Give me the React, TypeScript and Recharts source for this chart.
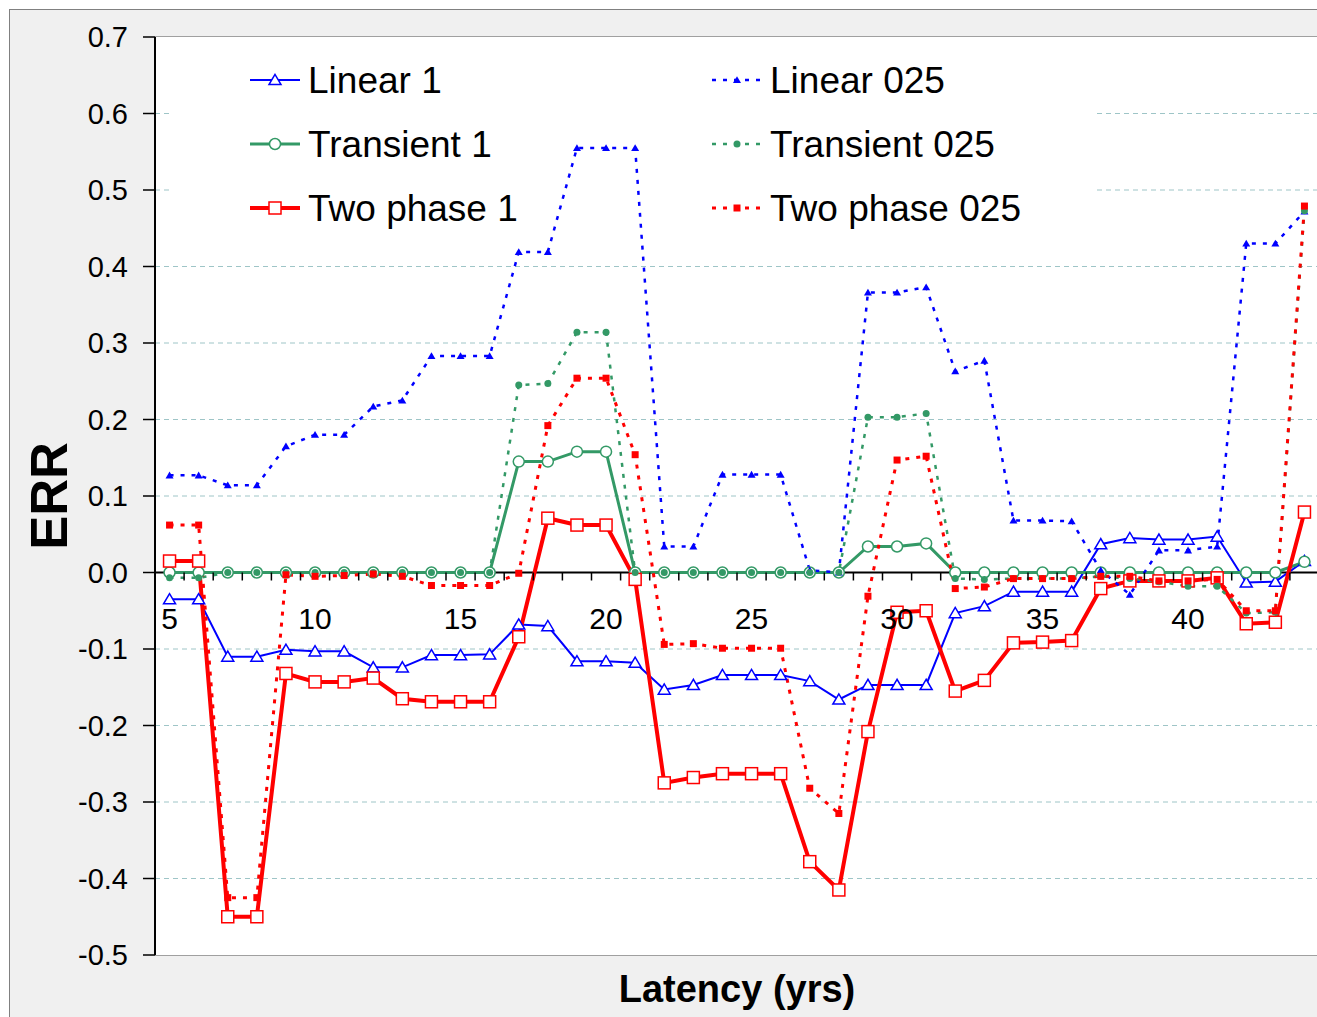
import { LineChart, Line, XAxis, YAxis, CartesianGrid } from "recharts";

const latency = [
  5, 6, 7, 8, 9, 10, 11, 12, 13, 14, 15, 16, 17, 18, 19, 20, 21, 22, 23, 24,
  25, 26, 27, 28, 29, 30, 31, 32, 33, 34, 35, 36, 37, 38, 39, 40, 41, 42, 43, 44,
];

const linear1 = [
  -0.035, -0.035, -0.11, -0.11, -0.101, -0.103, -0.103, -0.124, -0.124, -0.108,
  -0.108, -0.107, -0.068, -0.07, -0.116, -0.116, -0.118, -0.153, -0.147, -0.134,
  -0.134, -0.134, -0.142, -0.166, -0.147, -0.147, -0.147, -0.053, -0.044, -0.025,
  -0.025, -0.025, 0.037, 0.045, 0.043, 0.043, 0.047, -0.013, -0.012, 0.015,
];
const transient1 = [
  0, 0, 0, 0, 0, 0, 0, 0, 0, 0, 0, 0, 0.145, 0.145, 0.158, 0.158, 0, 0, 0, 0,
  0, 0, 0, 0, 0.034, 0.034, 0.038, 0, 0, 0, 0, 0, 0, 0, 0, 0, 0, 0, 0, 0.014,
];
const twoPhase1 = [
  0.015, 0.015, -0.45, -0.45, -0.132, -0.143, -0.143, -0.138, -0.165, -0.169,
  -0.169, -0.169, -0.084, 0.071, 0.062, 0.062, -0.009, -0.275, -0.268, -0.263,
  -0.263, -0.263, -0.378, -0.415, -0.208, -0.052, -0.05, -0.155, -0.141, -0.092,
  -0.091, -0.089, -0.021, -0.011, -0.011, -0.011, -0.007, -0.067, -0.065, 0.079,
];
const linear025 = [
  0.127, 0.127, 0.114, 0.114, 0.165, 0.18, 0.18, 0.217, 0.225, 0.283,
  0.283, 0.283, 0.419, 0.419, 0.555, 0.555, 0.555, 0.034, 0.034, 0.128,
  0.128, 0.128, 0.003, 0.0, 0.366, 0.366, 0.373, 0.263, 0.277, 0.068,
  0.068, 0.067, 0.003, -0.029, 0.029, 0.029, 0.034, 0.43, 0.43, 0.472,
];
const transient025 = [
  -0.007, -0.007, 0, 0, 0, 0, 0, 0, 0, 0, 0, 0, 0.245, 0.247, 0.314, 0.314, 0, 0, 0, 0,
  0, 0, 0, 0, 0.203, 0.203, 0.208, -0.008, -0.009, -0.008, -0.008, -0.008, -0.005,
  -0.008, -0.012, -0.018, -0.018, -0.053, -0.052, 0.473,
];
const twoPhase025 = [
  0.062, 0.062, -0.425, -0.425, -0.003, -0.005, -0.004, -0.002, -0.005, -0.017,
  -0.017, -0.017, -0.001, 0.192, 0.254, 0.254, 0.154, -0.094, -0.093, -0.099,
  -0.099, -0.099, -0.282, -0.315, -0.031, 0.147, 0.152, -0.021, -0.019, -0.008,
  -0.008, -0.008, -0.005, -0.005, -0.011, -0.011, -0.009, -0.05, -0.05, 0.479,
];

const yTicks = [-0.5, -0.4, -0.3, -0.2, -0.1, 0, 0.1, 0.2, 0.3, 0.4, 0.5, 0.6, 0.7];
const xLabels = [5, 10, 15, 20, 25, 30, 35, 40];

const data = latency.map((x, i) => ({
  latency: x,
  linear1: linear1[i],
  transient1: transient1[i],
  twoPhase1: twoPhase1[i],
  linear025: linear025[i],
  transient025: transient025[i],
  twoPhase025: twoPhase025[i],
}));

const BLUE = "#0000ff";
const GREEN = "#339966";
const RED = "#ff0000";
const FONT = "'Liberation Sans', Arial, sans-serif";

const CHART_W = 1330;
const CHART_H = 1017;
const PLOT_LEFT = 155;
const PLOT_TOP = 37;
const PLOT_W = 1164;
const PLOT_H = 918;
const Y_MIN = -0.5;
const Y_MAX = 0.7;
const ZERO_Y = PLOT_TOP + (PLOT_H * Y_MAX) / (Y_MAX - Y_MIN);

// the legend box hides the gridlines behind it
const LEG_LEFT = 172;
const LEG_RIGHT = 1097;
const LEG_TOP = 45;
const LEG_BOTTOM = 240;

// tick marks sit on the category boundaries, labels on every 5th category
const xTicks = [
  ...latency.map((v) => v - 0.5),
  latency[latency.length - 1] + 0.5,
  ...xLabels,
];

type Shape = "triangle" | "circle" | "square";
type Series = {
  key: string;
  name: string;
  color: string;
  width: number;
  dash?: string;
  shape: Shape;
  size: number;
  open?: boolean;
};

const series: Series[] = [
  { key: "linear1", name: "Linear 1", color: BLUE, width: 2, shape: "triangle", size: 12, open: true },
  { key: "transient1", name: "Transient 1", color: GREEN, width: 3, shape: "circle", size: 11, open: true },
  { key: "twoPhase1", name: "Two phase 1", color: RED, width: 4, shape: "square", size: 12, open: true },
  { key: "linear025", name: "Linear 025", color: BLUE, width: 2.5, dash: "4 7", shape: "triangle", size: 8 },
  { key: "transient025", name: "Transient 025", color: GREEN, width: 2.5, dash: "4 7", shape: "circle", size: 7 },
  { key: "twoPhase025", name: "Two phase 025", color: RED, width: 3, dash: "4 7", shape: "square", size: 7 },
];

function Marker({ cx, cy, s }: { cx: number; cy: number; s: Series }) {
  if (cx == null || cy == null) return null;
  const fill = s.open ? "#ffffff" : s.color;
  const sw = s.open ? 1.5 : 0;
  if (s.shape === "circle") {
    return <circle cx={cx} cy={cy} r={s.size / 2} fill={fill} stroke={s.color} strokeWidth={sw} />;
  }
  if (s.shape === "square") {
    return (
      <rect x={cx - s.size / 2} y={cy - s.size / 2} width={s.size} height={s.size}
        fill={fill} stroke={s.color} strokeWidth={sw} />
    );
  }
  const h = s.size * 0.85;
  const pts = `${cx},${cy - h * 0.55} ${cx - s.size / 2},${cy + h * 0.45} ${cx + s.size / 2},${cy + h * 0.45}`;
  return <polygon points={pts} fill={fill} stroke={s.color} strokeWidth={sw} />;
}

const XTick = (p: any) => {
  const v = p.payload.value;
  if (Number.isInteger(v)) {
    return (
      <text x={p.x} y={ZERO_Y + 56} textAnchor="middle" fontSize={30} fontFamily={FONT} fill="#000">
        {v}
      </text>
    );
  }
  return <line x1={p.x} x2={p.x} y1={ZERO_Y} y2={ZERO_Y + 8} stroke="#000" strokeWidth={1.5} />;
};

const gridLine = (p: any) => {
  const { x1, x2, y1, index } = p;
  const k = `h-${index}`;
  if (Math.abs(y1 - ZERO_Y) < 0.6) {
    return <line key={k} x1={x1} x2={x2} y1={y1} y2={y1} stroke="#000" strokeWidth={2} />;
  }
  if (y1 < PLOT_TOP + 1 || y1 > PLOT_TOP + PLOT_H - 1) return <g key={k} />;
  const st = { stroke: "#9ec5c7", strokeWidth: 1, strokeDasharray: "5 4" };
  if (y1 > LEG_TOP && y1 < LEG_BOTTOM) {
    return (
      <g key={k}>
        <line x1={x1} x2={LEG_LEFT} y1={y1} y2={y1} {...st} />
        <line x1={LEG_RIGHT} x2={x2} y1={y1} y2={y1} {...st} />
      </g>
    );
  }
  return <line key={k} x1={x1} x2={x2} y1={y1} y2={y1} {...st} />;
};

function Legend() {
  return (
    <div
      style={{
        position: "absolute",
        left: 250,
        top: 48,
        display: "grid",
        gridTemplateColumns: "462px 462px",
        gridTemplateRows: "64px 64px 64px",
        gridAutoFlow: "column",
        fontFamily: FONT,
        fontSize: 37,
        color: "#000",
      }}
    >
      {series.map((s) => (
        <div key={s.key} style={{ display: "flex", alignItems: "center", height: 64 }}>
          <svg width={50} height={24} style={{ overflow: "visible" }}>
            <line x1={0} x2={50} y1={12} y2={12} stroke={s.color} strokeWidth={s.width} strokeDasharray={s.dash} />
            <Marker cx={25} cy={12} s={s} />
          </svg>
          <span style={{ marginLeft: 8, lineHeight: 1 }}>{s.name}</span>
        </div>
      ))}
    </div>
  );
}

export default function App() {
  return (
    <div style={{ position: "absolute", left: 0, top: 0, width: 1317, height: 1017, overflow: "hidden", background: "#fff" }}>
      <div
        style={{
          position: "absolute",
          left: 9,
          top: 9,
          width: 1330,
          height: 1030,
          background: "#f0f0f0",
          border: "1px solid #808080",
        }}
      />
      <div
        style={{
          position: "absolute",
          left: PLOT_LEFT,
          top: PLOT_TOP - 1,
          width: PLOT_W,
          height: PLOT_H + 2,
          background: "#ffffff",
          border: "1px solid #a0a0a0",
          boxSizing: "border-box",
        }}
      />
      <div style={{ position: "absolute", left: 0, top: 0 }}>
        <LineChart
          width={CHART_W}
          height={CHART_H}
          data={data}
          margin={{ top: PLOT_TOP, right: CHART_W - PLOT_LEFT - PLOT_W, bottom: 0, left: 0 }}
        >
          <CartesianGrid vertical={false} horizontal={gridLine} />
          <XAxis
            dataKey="latency"
            type="number"
            domain={[4.5, 44.5]}
            ticks={xTicks}
            interval={0}
            height={CHART_H - PLOT_TOP - PLOT_H}
            axisLine={false}
            tickLine={false}
            tick={XTick}
            label={{
              value: "Latency (yrs)",
              position: "insideBottom",
              offset: 15,
              fill: "#000",
              style: { fontSize: 38, fontWeight: "bold", fontFamily: FONT, fill: "#000" },
            }}
          />
          <YAxis
            type="number"
            domain={[Y_MIN, Y_MAX]}
            ticks={yTicks}
            interval={0}
            width={PLOT_LEFT}
            allowDataOverflow
            tickFormatter={(v: number) => v.toFixed(1)}
            axisLine={{ stroke: "#000", strokeWidth: 2 }}
            tickLine={{ stroke: "#000", strokeWidth: 1.5 }}
            tickSize={12}
            tickMargin={15}
            tick={{ fill: "#000", fontSize: 29, fontFamily: FONT }}
            label={{
              value: "ERR",
              angle: -90,
              position: "insideLeft",
              offset: 49,
              fill: "#000",
              style: { fontSize: 51, fontWeight: "bold", fontFamily: FONT, fill: "#000", textAnchor: "middle" },
            }}
          />
          {series.map((s) => (
            <Line
              key={s.key}
              dataKey={s.key}
              name={s.name}
              type="linear"
              stroke={s.color}
              strokeWidth={s.width}
              strokeDasharray={s.dash}
              isAnimationActive={false}
              activeDot={false}
              dot={(p: any) => <Marker key={`${s.key}-${p.index}`} cx={p.cx} cy={p.cy} s={s} />}
            />
          ))}
        </LineChart>
      </div>
      <Legend />
    </div>
  );
}
